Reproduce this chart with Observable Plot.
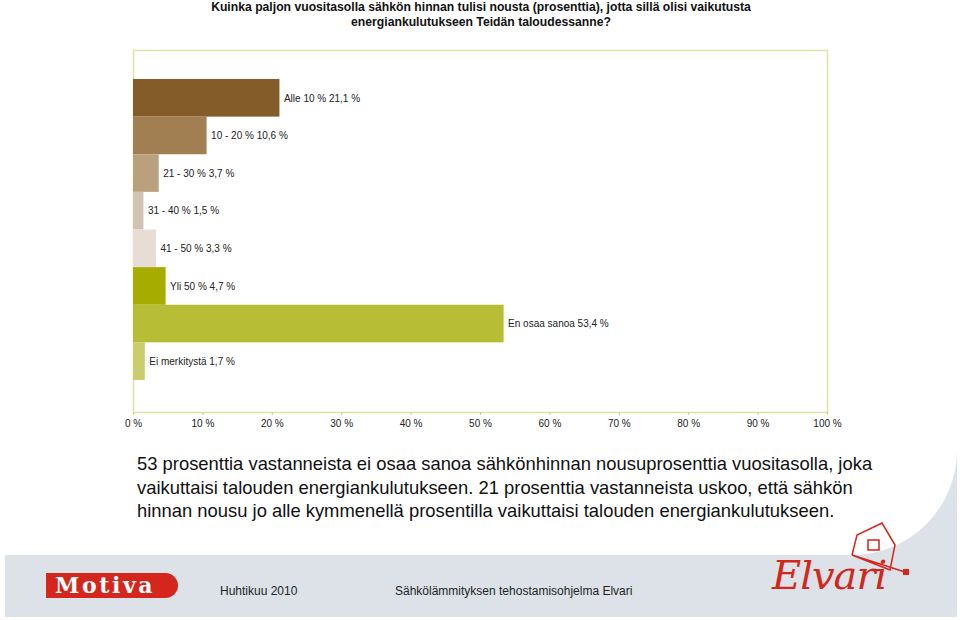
<!DOCTYPE html>
<html><head><meta charset="utf-8">
<script src="https://cdn.jsdelivr.net/npm/d3@7"></script>
<script src="https://cdn.jsdelivr.net/npm/@observablehq/plot@0.6"></script>
<style>
body{margin:0;background:#fff;font-family:"Liberation Sans",Arial,Helvetica,sans-serif;}
#page{position:relative;width:960px;height:620px;overflow:hidden;background:#fff;}
#greybg{position:absolute;left:5px;top:430px;width:952px;height:187px;background:#dde2e9;}
#white{position:absolute;left:0;top:0;width:957px;height:555px;background:#fff;border-bottom-right-radius:105px;}
.t{position:absolute;white-space:nowrap;color:#111;}
.title{font-weight:bold;font-size:12.2px;left:0;width:962px;text-align:center;}
#chart{position:absolute;left:0;top:45px;}
.para{font-size:18.4px;left:137px;color:#111;}
.foot{font-size:12px;color:#222;}
#motiva{position:absolute;left:46px;top:573px;width:132px;height:25px;background:#d4261c;border-radius:0 13px 13px 0;color:#fff;font-family:"DejaVu Serif","Liberation Serif",serif;font-weight:bold;font-size:22px;line-height:25px;text-indent:9px;letter-spacing:2.6px;}
#elvari{position:absolute;left:772px;top:552px;color:#d4261c;font-family:"DejaVu Serif","Liberation Serif",serif;font-style:italic;font-size:40px;font-weight:normal;letter-spacing:-1px;}
#house{position:absolute;left:840px;top:515px;}
</style></head>
<body>
<div id="page">
  <div id="greybg"></div>
  <div id="white"></div>
  <div class="t title" style="top:0px;">Kuinka paljon vuositasolla sähkön hinnan tulisi nousta (prosenttia), jotta sillä olisi vaikutusta</div>
  <div class="t title" style="top:15px;">energiankulutukseen Teidän taloudessanne?</div>
  <div id="chart"></div>
  <div class="t para" style="top:453px;">53 prosenttia vastanneista ei osaa sanoa sähkönhinnan nousuprosenttia vuositasolla, joka</div>
  <div class="t para" style="top:477px;">vaikuttaisi talouden energiankulutukseen. 21 prosenttia vastanneista uskoo, että sähkön</div>
  <div class="t para" style="top:500px;">hinnan nousu jo alle kymmenellä prosentilla vaikuttaisi talouden energiankulutukseen.</div>
  <div id="motiva">Motiva</div>
  <div class="t foot" style="left:220px;top:584px;">Huhtikuu 2010</div>
  <div class="t foot" style="left:395px;top:584px;">Sähkölämmityksen tehostamisohjelma Elvari</div>
  <div id="elvari">Elvari</div>
  <svg id="house" width="80" height="70" viewBox="0 0 80 70">
    <polyline points="12,40 17,20 42,8 55,30 50,55 12,40 65,57" fill="none" stroke="#d4261c" stroke-width="1.5"/>
    <rect x="28" y="25" width="11" height="10" fill="none" stroke="#d4261c" stroke-width="1.5"/>
    <rect x="63" y="54" width="6" height="6" fill="#d4261c"/>
  </svg>
</div>
<script>
const categories = ["Alle 10 %", "10 - 20 %", "21 - 30 %", "31 - 40 %", "41 - 50 %", "Yli 50 %", "En osaa sanoa", "Ei merkitystä"];
const values = [21.1, 10.6, 3.7, 1.5, 3.3, 4.7, 53.4, 1.7];
const barColors = ["#845c2a", "#a27f52", "#b9a17e", "#d0c4b0", "#e6ddd4", "#a6ad00", "#b7bd34", "#c9cd6b"];
const xTicks = [0, 10, 20, 30, 40, 50, 60, 70, 80, 90, 100];

const fmt = v => String(v).replace(".", ",") + " %";
const data = categories.map((c, i) => ({cat: c, value: values[i], label: c + " " + fmt(values[i])}));

const chart = Plot.plot({
  width: 960,
  height: 395,
  marginTop: 5,
  marginBottom: 28,
  marginLeft: 133,
  marginRight: 133,
  style: {fontFamily: "'Liberation Sans', Arial, sans-serif", background: "transparent"},
  x: {domain: [0, 100], label: null},
  y: {domain: categories, range: [34, 335], padding: 0, round: false, axis: null},
  color: {domain: categories, range: barColors},
  marks: [
    Plot.frame({stroke: "#dfe3a8", strokeWidth: 1.5}),
    Plot.barX(data, {x: "value", y: "cat", fill: "cat"}),
    Plot.text(data, {x: "value", y: "cat", text: "label", dx: 4, textAnchor: "start", fontSize: 10, fill: "#222"}),
    Plot.axisX({ticks: xTicks, tickFormat: d => d + " %", tickSize: 3, tickPadding: 4, fontSize: 10, stroke: "#c9cd8a", fill: "#222", label: null})
  ]
});
document.getElementById("chart").appendChild(chart);
</script>
</body></html>
